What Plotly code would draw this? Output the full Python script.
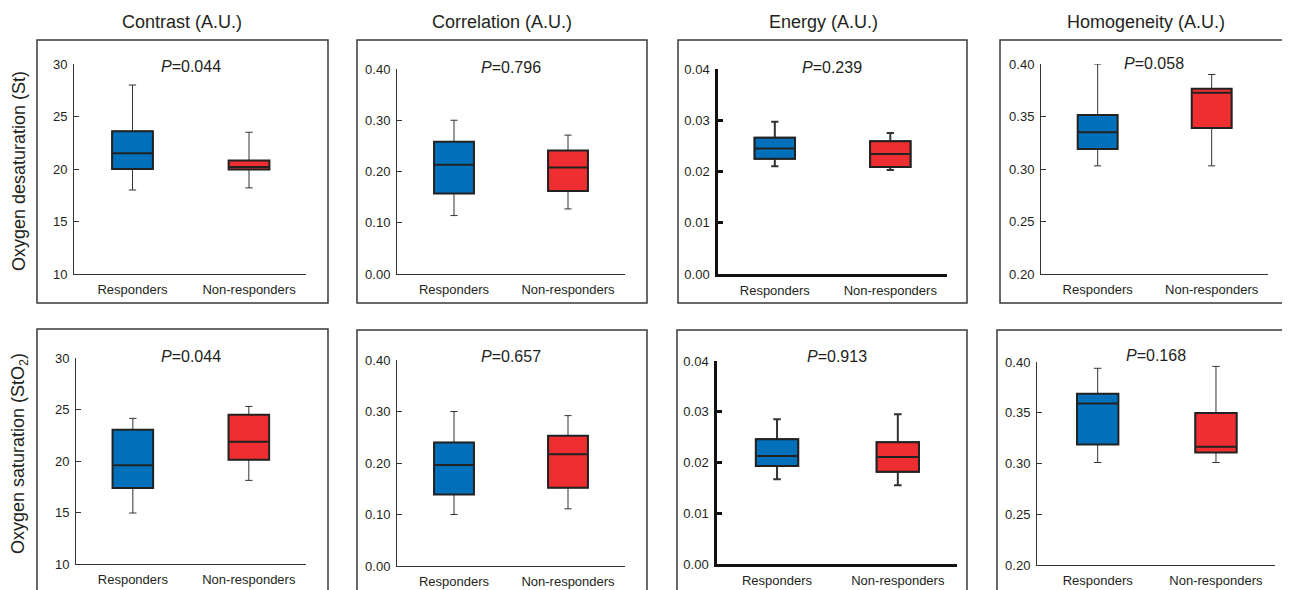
import plotly.graph_objects as go

# ---------------- data ----------------
groups = ["Responders", "Non-responders"]
features = ["Contrast (A.U.)", "Correlation (A.U.)", "Energy (A.U.)", "Homogeneity (A.U.)"]
row_titles = ["Oxygen desaturation (St)", "Oxygen saturation (StO<sub>2</sub>)"]

# box statistics, [Responders, Non-responders]
contrast_st_lower = [18.0, 18.2]
contrast_st_q1 = [20.0, 19.95]
contrast_st_median = [21.5, 20.2]
contrast_st_q3 = [23.6, 20.8]
contrast_st_upper = [28.0, 23.5]

correlation_st_lower = [0.114, 0.127]
correlation_st_q1 = [0.157, 0.162]
correlation_st_median = [0.213, 0.208]
correlation_st_q3 = [0.258, 0.241]
correlation_st_upper = [0.300, 0.271]

energy_st_lower = [0.0210, 0.0203]
energy_st_q1 = [0.0225, 0.0209]
energy_st_median = [0.0245, 0.0234]
energy_st_q3 = [0.0266, 0.0259]
energy_st_upper = [0.0297, 0.0275]

homogeneity_st_lower = [0.303, 0.303]
homogeneity_st_q1 = [0.319, 0.339]
homogeneity_st_median = [0.335, 0.3727]
homogeneity_st_q3 = [0.3514, 0.3765]
homogeneity_st_upper = [0.400, 0.390]

contrast_sto2_lower = [14.95, 18.12]
contrast_sto2_q1 = [17.38, 20.13]
contrast_sto2_median = [19.58, 21.88]
contrast_sto2_q3 = [23.04, 24.5]
contrast_sto2_upper = [24.14, 25.3]

correlation_sto2_lower = [0.100, 0.111]
correlation_sto2_q1 = [0.139, 0.152]
correlation_sto2_median = [0.196, 0.217]
correlation_sto2_q3 = [0.240, 0.253]
correlation_sto2_upper = [0.300, 0.292]

energy_sto2_lower = [0.0167, 0.0155]
energy_sto2_q1 = [0.0193, 0.0182]
energy_sto2_median = [0.0213, 0.0211]
energy_sto2_q3 = [0.0246, 0.0240]
energy_sto2_upper = [0.0285, 0.0295]

homogeneity_sto2_lower = [0.301, 0.301]
homogeneity_sto2_q1 = [0.3188, 0.3109]
homogeneity_sto2_median = [0.3592, 0.3164]
homogeneity_sto2_q3 = [0.3688, 0.3497]
homogeneity_sto2_upper = [0.3938, 0.3957]

p_values = ["0.044", "0.796", "0.239", "0.058", "0.044", "0.657", "0.913", "0.168"]

yticks_contrast = [10, 15, 20, 25, 30]
yticks_correlation = [0.0, 0.1, 0.2, 0.3, 0.4]
yticks_energy = [0.0, 0.01, 0.02, 0.03, 0.04]
yticks_homogeneity = [0.20, 0.25, 0.30, 0.35, 0.40]

stats = [
    (contrast_st_lower, contrast_st_q1, contrast_st_median, contrast_st_q3, contrast_st_upper),
    (correlation_st_lower, correlation_st_q1, correlation_st_median, correlation_st_q3, correlation_st_upper),
    (energy_st_lower, energy_st_q1, energy_st_median, energy_st_q3, energy_st_upper),
    (homogeneity_st_lower, homogeneity_st_q1, homogeneity_st_median, homogeneity_st_q3, homogeneity_st_upper),
    (contrast_sto2_lower, contrast_sto2_q1, contrast_sto2_median, contrast_sto2_q3, contrast_sto2_upper),
    (correlation_sto2_lower, correlation_sto2_q1, correlation_sto2_median, correlation_sto2_q3, correlation_sto2_upper),
    (energy_sto2_lower, energy_sto2_q1, energy_sto2_median, energy_sto2_q3, energy_sto2_upper),
    (homogeneity_sto2_lower, homogeneity_sto2_q1, homogeneity_sto2_median, homogeneity_sto2_q3, homogeneity_sto2_upper),
]
yticks = [yticks_contrast, yticks_correlation, yticks_energy, yticks_homogeneity] * 2
ytickfmt = ["d", ".2f", ".2f", ".2f"] * 2

# ---------------- layout / style ----------------
OFF = 8                      # default page body margin
FW, FH = 1290 - OFF, 590 - OFF
FONT = "Liberation Sans, Arial, Helvetica, sans-serif"
TXT = "#231f20"
colors = ["#0070BA", "#EE2E31"]

# axis pixel boxes (screen px): x0, x1, ytop, ybottom ; x-range
axes_px = [
    (74, 306, 64, 274, [-0.502, 1.489]),
    (397, 625, 69, 274, [-0.5, 1.5]),
    (718, 947, 69, 274, [-0.492, 1.491]),
    (1041, 1268, 64, 274, [-0.497, 1.494]),
    (76, 306, 358, 564, [-0.49, 1.493]),
    (397, 625, 360, 566, [-0.5, 1.5]),
    (717, 957, 361, 564, [-0.497, 1.49]),
    (1037, 1275, 362, 565, [-0.513, 1.499]),
]
frames_px = [
    (37, 328, 40, 303), (357, 647, 40, 303), (678, 967, 40, 303), (1000, 1289, 40, 303),
    (37, 328, 329, 596), (357, 647, 330, 596), (677, 967, 330, 596), (997, 1289, 330, 596),
]
p_pos = [(191, 67), (511, 68), (832, 68), (1154, 63),
         (191, 356), (511, 356), (837, 356), (1156, 355)]
title_pos = [(182, 22), (502, 22), (823, 22), (1146, 22)]
row_title_pos = [(19, 171), (19, 454)]


def px(x):
    return (x - OFF) / FW


def py(y):
    return 1 - (y - OFF) / FH


fig = go.Figure()
layout = dict(
    width=FW, height=FH,
    margin=dict(l=0, r=0, t=0, b=0, pad=0, autoexpand=False),
    paper_bgcolor="white", plot_bgcolor="rgba(0,0,0,0)",
    showlegend=False, font=dict(family=FONT, color=TXT, size=13),
    boxmode="overlay", hovermode=False,
)
shapes = []
annotations = []

for k in range(8):
    n = k + 1
    xa = "x" if n == 1 else f"x{n}"
    ya = "y" if n == 1 else f"y{n}"
    x0, x1, yt, yb, xr = axes_px[k]
    energy = (k % 4 == 2)
    lw = 2.5 if energy else 1
    lc = "#111111" if energy else "#333333"
    whisk_w = 2 if energy else 1
    ticks = yticks[k]
    lower, q1, med, q3, upper = stats[k]
    for g in range(2):
        # whiskers (thin)
        fig.add_trace(go.Box(
            x=[groups[g]], q1=[q1[g]], median=[med[g]], q3=[q3[g]],
            lowerfence=[lower[g]], upperfence=[upper[g]],
            width=0.35, whiskerwidth=0.18, fillcolor=colors[g],
            line=dict(color="#333333", width=whisk_w),
            xaxis=xa, yaxis=ya, hoverinfo="skip", showlegend=False,
        ))
        # box body (thick outline)
        fig.add_trace(go.Box(
            x=[groups[g]], q1=[q1[g]], median=[med[g]], q3=[q3[g]],
            lowerfence=[q1[g]], upperfence=[q3[g]],
            width=0.35, whiskerwidth=0, fillcolor=colors[g],
            line=dict(color="#222222", width=2),
            xaxis=xa, yaxis=ya, hoverinfo="skip", showlegend=False,
        ))
    xkey = "xaxis" if n == 1 else f"xaxis{n}"
    ykey = "yaxis" if n == 1 else f"yaxis{n}"
    layout[xkey] = dict(
        domain=[px(x0), px(x1)], anchor=ya, type="category", automargin=False,
        categoryorder="array", categoryarray=groups, range=xr,
        showline=True, linecolor=lc, linewidth=lw, ticks="",
        ticklabelstandoff=3,
        showgrid=False, zeroline=False, fixedrange=True,
        tickfont=dict(size=13, color=TXT, family=FONT),
    )
    layout[ykey] = dict(
        domain=[py(yb), py(yt)], anchor=xa, automargin=False,
        range=[ticks[0], ticks[-1]], tickvals=ticks, tickformat=ytickfmt[k],
        showline=True, linecolor=lc, linewidth=lw, ticks="inside",
        ticklen=5, tickcolor=lc, tickwidth=lw, ticklabelstandoff=3,
        showgrid=False, zeroline=False, fixedrange=True,
        tickfont=dict(size=13, color=TXT, family=FONT),
    )
    fx0, fx1, fy0, fy1 = frames_px[k]
    shapes.append(dict(type="rect", xref="paper", yref="paper",
                       x0=px(fx0), x1=px(fx1), y0=py(fy1), y1=py(fy0),
                       line=dict(color="#3a3a3a", width=1.5), fillcolor="rgba(0,0,0,0)"))
    pxp, pyp = p_pos[k]
    annotations.append(dict(text="<i>P</i>=" + p_values[k], xref="paper", yref="paper",
                            x=px(pxp), y=py(pyp), xanchor="center", yanchor="middle",
                            showarrow=False, font=dict(size=16, color=TXT, family=FONT)))

for i, t in enumerate(features):
    tx, ty = title_pos[i]
    annotations.append(dict(text=t, xref="paper", yref="paper", x=px(tx), y=py(ty),
                            xanchor="center", yanchor="middle", showarrow=False,
                            font=dict(size=18, color=TXT, family=FONT)))
for i, t in enumerate(row_titles):
    tx, ty = row_title_pos[i]
    annotations.append(dict(text=t, xref="paper", yref="paper", x=px(tx), y=py(ty),
                            xanchor="center", yanchor="middle", textangle=-90, showarrow=False,
                            font=dict(size=18, color=TXT, family=FONT)))

layout["shapes"] = shapes
layout["annotations"] = annotations
fig.update_layout(**layout)
fig.write_html("out.html", config={"displayModeBar": False})
